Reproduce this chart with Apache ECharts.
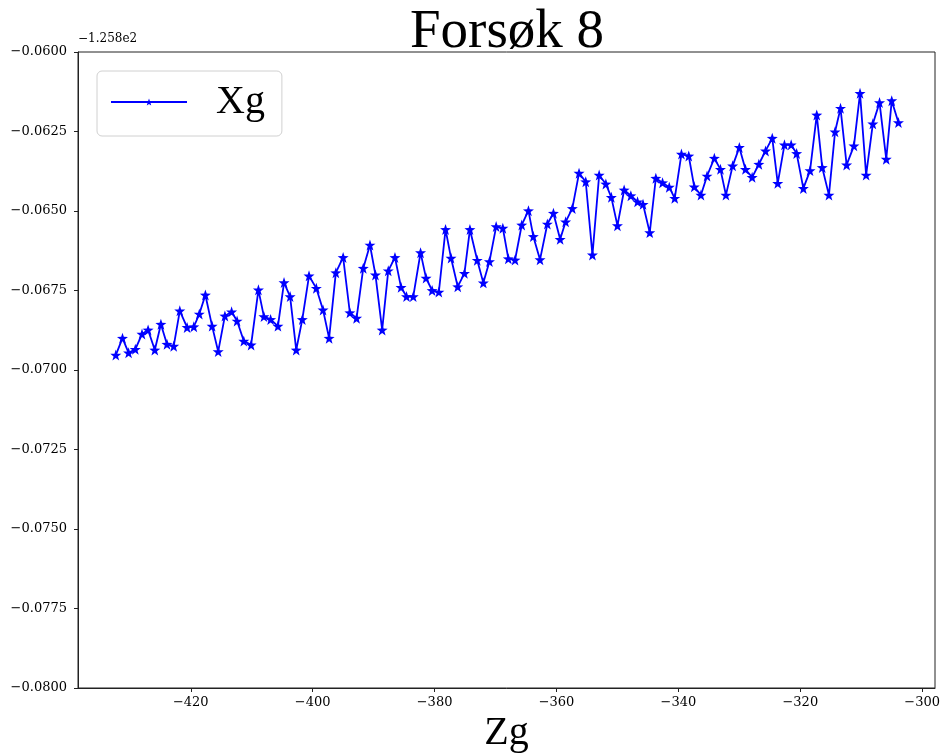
<!DOCTYPE html>
<html>
<head>
<meta charset="utf-8">
<script src="https://cdn.jsdelivr.net/npm/echarts@6/dist/echarts.min.js"></script>
<style>
  html, body { margin: 0; padding: 0; background: #fff; }
  #chart { width: 941px; height: 754px; }
</style>
</head>
<body>
<div id="chart"></div>
<script>
// Zg positions (horizontal axis)
const zg = [
  -432.3, -431.2, -430.2, -429.1, -428.0, -427.0, -425.9, -424.9, -423.9, -422.8,
  -421.8, -420.6, -419.5, -418.6, -417.6, -416.5, -415.5, -414.4, -413.3, -412.4,
  -411.3, -410.1, -408.9, -408.0, -406.9, -405.7, -404.7, -403.7, -402.7, -401.7,
  -400.6, -399.4, -398.3, -397.3, -396.2, -395.0, -393.9, -392.8, -391.7, -390.6,
  -389.7, -388.6, -387.6, -386.5, -385.5, -384.6, -383.5, -382.3, -381.4, -380.4,
  -379.3, -378.2, -377.3, -376.2, -375.1, -374.2, -373.0, -372.0, -371.0, -369.9,
  -368.8, -367.9, -366.8, -365.7, -364.6, -363.8, -362.7, -361.5, -360.5, -359.4,
  -358.5, -357.4, -356.3, -355.2, -354.1, -353.0, -351.9, -351.0, -350.0, -348.9,
  -347.8, -346.7, -345.8, -344.7, -343.7, -342.6, -341.5, -340.6, -339.5, -338.3,
  -337.4, -336.3, -335.3, -334.1, -333.1, -332.2, -331.1, -330.0, -329.0, -327.9,
  -326.8, -325.7, -324.6, -323.7, -322.6, -321.5, -320.6, -319.5, -318.4, -317.3,
  -316.4, -315.3, -314.3, -313.4, -312.4, -311.2, -310.2, -309.2, -308.1, -307.0,
  -305.9, -305.0, -303.9
];

// Xg values, stored relative to the axis offset (Xg = XG_OFFSET + value)
const XG_OFFSET = -125.8;
const xg = [
  -0.06953, -0.06900, -0.06946, -0.06935, -0.06887, -0.06874, -0.06937, -0.06856, -0.06919, -0.06925,
  -0.06814, -0.06866, -0.06864, -0.06824, -0.06764, -0.06862, -0.06942, -0.06830, -0.06817, -0.06846,
  -0.06909, -0.06921, -0.06748, -0.06832, -0.06841, -0.06862, -0.06725, -0.06769, -0.06937, -0.06841,
  -0.06704, -0.06743, -0.06811, -0.06900, -0.06694, -0.06646, -0.06820, -0.06837, -0.06680, -0.06607,
  -0.06701, -0.06874, -0.06688, -0.06646, -0.06740, -0.06769, -0.06769, -0.06631, -0.06711, -0.06750,
  -0.06755, -0.06558, -0.06648, -0.06738, -0.06696, -0.06558, -0.06655, -0.06726, -0.06659, -0.06549,
  -0.06554, -0.06650, -0.06654, -0.06544, -0.06499, -0.06580, -0.06653, -0.06541, -0.06507, -0.06589,
  -0.06534, -0.06492, -0.06381, -0.06408, -0.06638, -0.06387, -0.06415, -0.06457, -0.06546, -0.06434,
  -0.06452, -0.06471, -0.06479, -0.06568, -0.06397, -0.06411, -0.06425, -0.06460, -0.06321, -0.06327,
  -0.06424, -0.06450, -0.06390, -0.06334, -0.06369, -0.06450, -0.06358, -0.06300, -0.06369, -0.06394,
  -0.06353, -0.06311, -0.06271, -0.06413, -0.06292, -0.06292, -0.06319, -0.06429, -0.06373, -0.06198,
  -0.06363, -0.06450, -0.06251, -0.06177, -0.06355, -0.06295, -0.06130, -0.06387, -0.06226, -0.06159,
  -0.06337, -0.06153, -0.06222
];

// Tick values
const zgTicks = [-420, -400, -380, -360, -340, -320, -300];
const xgTickStep = 0.0025;

const STAR = 'path://M0,-10L2.35,-3.24L9.51,-3.09L3.8,1.24L5.88,8.09L0,4L-5.88,8.09L-3.8,1.24L-9.51,-3.09L-2.35,-3.24Z';
const MINUS = '\u2212';
const fmt = (v, d) => v.toFixed(d).replace('-', MINUS);

const chart = echarts.init(document.getElementById('chart'), null, { renderer: 'canvas' });

chart.setOption({
  animation: false,
  backgroundColor: '#ffffff',
  title: {
    text: 'Forsøk 8',
    left: 405,
    top: 0,
    textStyle: { fontFamily: 'Liberation Serif', fontSize: 55, fontWeight: 'normal', color: '#000' }
  },
  grid: {
    left: 78, right: 6, top: 52, bottom: 66,
    outerBoundsMode: 'none',
    containLabel: false,
    show: true, borderColor: '#222', borderWidth: 1, backgroundColor: 'transparent'
  },
  legend: {
    left: 97, top: 71,
    orient: 'vertical',
    padding: [9, 17, 12, 13],
    backgroundColor: 'rgba(255,255,255,0.8)',
    borderColor: '#d0d0d0', borderWidth: 1, borderRadius: 5,
    itemWidth: 76, itemHeight: 9,
    textStyle: { fontFamily: 'Liberation Serif', fontSize: 40, color: '#000', padding: [0, 0, 0, 24], lineHeight: 44 },
    data: ['Xg']
  },
  xAxis: {
    type: 'value',
    min: -438.5, max: -297.9,
    name: 'Zg',
    nameLocation: 'middle',
    nameGap: 24,
    nameTextStyle: { fontFamily: 'Liberation Serif', fontSize: 40, color: '#000' },
    axisLine: { show: true, onZero: false, lineStyle: { color: '#222', width: 1 } },
    axisTick: { show: true, length: 4, lineStyle: { color: '#222' }, customValues: zgTicks },
    axisLabel: {
      customValues: zgTicks, margin: 8,
      fontFamily: 'DejaVu Serif', fontSize: 13, color: '#000',
      formatter: v => fmt(v, 0)
    },
    splitLine: { show: false }
  },
  yAxis: {
    type: 'value',
    min: -0.08, max: -0.06, interval: xgTickStep,
    axisLine: { show: true, onZero: false, lineStyle: { color: '#222', width: 1 } },
    axisTick: { show: true, length: 4, lineStyle: { color: '#222' } },
    axisLabel: {
      margin: 11,
      fontFamily: 'DejaVu Serif', fontSize: 13, color: '#000',
      formatter: v => fmt(v, 4)
    },
    splitLine: { show: false }
  },
  graphic: [{
    type: 'text',
    left: 78, top: 33,
    style: {
      text: MINUS + '1.258e2',
      font: '12px "DejaVu Serif"',
      fill: '#000'
    }
  }],
  series: [{
    name: 'Xg',
    type: 'line',
    data: zg.map((z, i) => [z, xg[i]]),
    symbol: STAR,
    symbolSize: 11,
    showAllSymbol: true,
    lineStyle: { color: '#0000ff', width: 1.8 },
    itemStyle: { color: '#0000ff', borderWidth: 0 },
    emphasis: { disabled: true }
  }]
});
</script>
</body>
</html>
